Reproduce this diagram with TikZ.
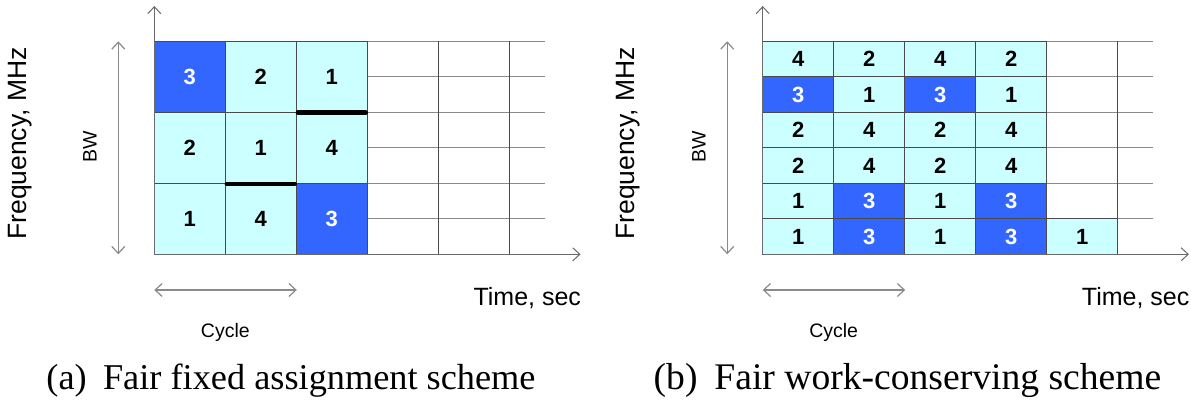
\documentclass[tikz,border=0pt]{standalone}
\usepackage{fontspec}
\setmainfont{Liberation Serif}
\setsansfont{Liberation Sans}
\usetikzlibrary{arrows.meta}
\definecolor{cellc}{HTML}{CCFFFF}
\definecolor{cellb}{HTML}{3366FF}
\definecolor{gridc}{HTML}{4A4A4A}
\definecolor{linec}{HTML}{8A8A8A}
\definecolor{axisc}{HTML}{6A6A6A}
\begin{document}
\begin{tikzpicture}[x=1pt,y=-1pt,
  cellbase/.style={draw=gridc, line width=0.9pt, minimum width=71pt, inner sep=0pt,
    font=\sffamily\bfseries\fontsize{22}{22}\selectfont},
  lcell/.style={cellbase, fill=cellc, text=black},
  bcell/.style={cellbase, fill=cellb, text=white},
  thin/.style={draw=linec, line width=1pt},
  vline/.style={draw=gridc, line width=0.8pt},
  axis/.style={draw=axisc, line width=1pt, -{Straight Barb[length=7pt,width=13pt]}},
  dbl/.style={draw=linec, line width=1.2pt, {Straight Barb[length=7pt,width=13pt]}-{Straight Barb[length=7pt,width=13pt]}},
  bar/.style={draw=black, line width=4.5pt, line cap=round, shorten >=2pt, shorten <=2pt},
  lab/.style={font=\sffamily\fontsize{25}{25}\selectfont},
  flab/.style={font=\sffamily\fontsize{26.5}{26.5}\selectfont},
  slab/.style={font=\sffamily\fontsize{19.5}{19.5}\selectfont},
  capt/.style={font=\rmfamily\fontsize{36.3}{36.3}\selectfont, anchor=base}]
\useasboundingbox (0,0) rectangle (1191,401);
% ================= panel (a) =================
\foreach \k in {0,...,5}
  \draw[thin] ({367.3},{41.3+35.5*\k}) -- (545,{41.3+35.5*\k});
\draw[thin] (154.3,41.3) -- (367.3,41.3);
\foreach \xx in {438.3,509.3}
  \draw[vline] (\xx,41.3) -- (\xx,254.3);
\foreach \r/\c/\v/\s in {0/0/3/bcell,0/1/2/lcell,0/2/1/lcell,
                         1/0/2/lcell,1/1/1/lcell,1/2/4/lcell,
                         2/0/1/lcell,2/1/4/lcell,2/2/3/bcell}
  \node[\s, minimum height=71pt] (a\r\c) at ({189.8+71*\c},{76.8+71*\r}) {\v};
\draw[bar] (a02.south west) -- (a02.south east);
\draw[bar] (a11.south west) -- (a11.south east);
\coordinate (ao) at (154.3,254.3);
\coordinate (ay) at (154.3,6);
\coordinate (ax) at (580.5,254.3);
\draw[axis] (ao) -- (ay);
\draw[axis] (ao) -- (ax);
\coordinate (abt) at (118.3,41.3);
\coordinate (abb) at (118.3,254.3);
\draw[dbl] (abt) -- (abb);
\node[slab, rotate=90] (abw) at (90,147) {BW};
\node[flab, rotate=90] (afr) at (20,143.5) {Frequency, MHz};
\coordinate (acl) at (154.3,290);
\coordinate (acr) at (296.8,290);
\draw[dbl] (acl) -- (acr);
\node[slab] (acy) at (225.3,332) {Cycle};
\node[lab, anchor=base west] (ati) at (470,305) {Time, sec};
\node[capt] (acap) at (291,389) {(a)\hspace{0.45em}Fair fixed assignment scheme};
% ================= panel (b) =================
\foreach \k in {0,...,5}
  \draw[thin] ({1046.7},{41.3+35.5*\k}) -- (1153.4,{41.3+35.5*\k});
\draw[thin] (762.7,41.3) -- (1046.7,41.3);
\draw[vline] (1117.7,41.3) -- (1117.7,254.3);
\foreach \r/\c/\v/\s in {0/0/4/lcell,0/1/2/lcell,0/2/4/lcell,0/3/2/lcell,
                         1/0/3/bcell,1/1/1/lcell,1/2/3/bcell,1/3/1/lcell,
                         2/0/2/lcell,2/1/4/lcell,2/2/2/lcell,2/3/4/lcell,
                         3/0/2/lcell,3/1/4/lcell,3/2/2/lcell,3/3/4/lcell,
                         4/0/1/lcell,4/1/3/bcell,4/2/1/lcell,4/3/3/bcell,
                         5/0/1/lcell,5/1/3/bcell,5/2/1/lcell,5/3/3/bcell,5/4/1/lcell}
  \node[\s, minimum height=35.5pt] (b\r\c) at ({798.2+71*\c},{59.05+35.5*\r}) {\v};
\coordinate (bo) at (762.7,254.3);
\coordinate (by) at (762.7,6);
\coordinate (bx) at (1188.9,254.3);
\draw[axis] (bo) -- (by);
\draw[axis] (bo) -- (bx);
\coordinate (bbt) at (727.2,41.3);
\coordinate (bbb) at (727.2,254.3);
\draw[dbl] (bbt) -- (bbb);
\node[slab, rotate=90] (bbw) at (699,147) {BW};
\node[flab, rotate=90] (bfr) at (628,143.5) {Frequency, MHz};
\coordinate (bcl) at (762.7,290);
\coordinate (bcr) at (905.2,290);
\draw[dbl] (bcl) -- (bcr);
\node[slab] (bcy) at (833.7,332) {Cycle};
\node[lab, anchor=base west] (bti) at (1078.4,305) {Time, sec};
\node[capt, font=\rmfamily\fontsize{37.6}{37.6}\selectfont] (bcap) at (907.5,389) {(b)\hspace{0.45em}Fair work-conserving scheme};
\end{tikzpicture}
\end{document}
